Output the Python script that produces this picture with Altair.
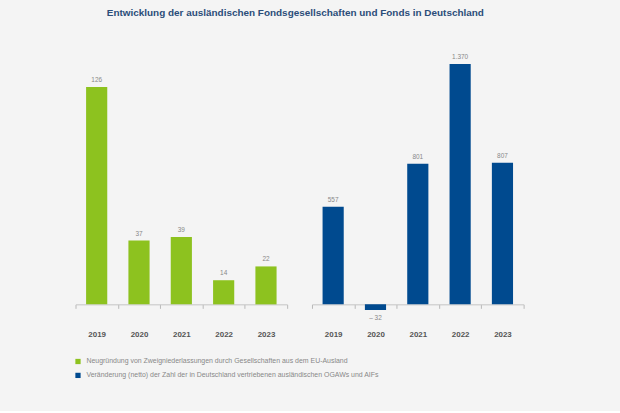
import altair as alt
import pandas as pd

years = ["2019", "2020", "2021", "2022", "2023"]
branches = [126, 37, 39, 14, 22]
funds = [557, -32, 801, 1370, 807]
series_names = [
    "Neugründung von Zweigniederlassungen durch Gesellschaften aus dem EU-Ausland",
    "Veränderung (netto) der Zahl der in Deutschland vertriebenen ausländischen OGAWs und AIFs",
]
colors = ["#8dc21f", "#004a8f"]
title_text = "Entwicklung der ausländischen Fondsgesellschaften und Fonds in Deutschland"


def fmt(v):
    s = f"{abs(v):,}".replace(",", ".")
    return s if v >= 0 else "\u2013 " + s


df_l = pd.DataFrame({"year": years, "value": branches, "series": series_names[0],
                     "label": [fmt(v) for v in branches]})
df_r = pd.DataFrame({"year": years, "value": funds, "series": series_names[1],
                     "label": [fmt(v) for v in funds]})

FONT = "Liberation Sans"
W, H = 213, 253

xenc = alt.X("year:N", sort=years,
             scale=alt.Scale(paddingInner=0, paddingOuter=0),
             axis=alt.Axis(title=None, labelAngle=0, domainColor="#c4c4c4",
                           ticks=True, tickColor="#b8b8b8", tickSize=4,
                           tickBand="extent", tickExtra=True, labelPadding=22,
                           labelFont=FONT, labelFontSize=8,
                           labelFontWeight="bold", labelColor="#555555"))

leg = alt.Legend(title=None, orient="none", legendX=-1, legendY=307,
                 symbolType="square", symbolSize=28, symbolStrokeWidth=0,
                 labelFont=FONT, labelFontSize=7, labelColor="#888888",
                 rowPadding=6, labelOffset=5, labelLimit=500)
cscale = alt.Scale(domain=series_names, range=colors)


def panel(df, domain):
    base = alt.Chart(df)
    bars = base.mark_bar(width=alt.RelativeBandSize(0.5)).encode(
        x=xenc,
        y=alt.Y("value:Q", scale=alt.Scale(domain=domain, nice=False, zero=False),
                axis=None),
        color=alt.Color("series:N", scale=cscale, legend=leg),
    )
    pos = base.transform_filter("datum.value >= 0").mark_text(
        baseline="alphabetic", dy=-5, font=FONT, fontSize=6.5, color="#888888"
    ).encode(x=alt.X("year:N", sort=years), y="value:Q", text="label:N")
    neg = base.transform_filter("datum.value < 0").mark_text(
        baseline="alphabetic", dy=10, font=FONT, fontSize=6.5, color="#888888"
    ).encode(x=alt.X("year:N", sort=years), y="value:Q", text="label:N")
    return alt.layer(bars, pos, neg).properties(width=W, height=H)


left = panel(df_l, [0, 145.8])
right = panel(df_r, [0, 1432.6])

chart = alt.hconcat(left, right, spacing=23).resolve_scale(
    y="independent"
).properties(
    title=alt.Title(title_text, font=FONT, fontSize=10, fontWeight="bold",
                    color="#2b4d79", anchor="middle", offset=35, dx=-4),
    autosize=alt.AutoSizeParams(type="pad"),
    padding={"left": 75, "top": 7, "right": 96, "bottom": 31},
).configure(background="#f4f4f4").configure_view(stroke=None)

chart.save("out.html", embed_options={"renderer": "svg", "actions": False})
